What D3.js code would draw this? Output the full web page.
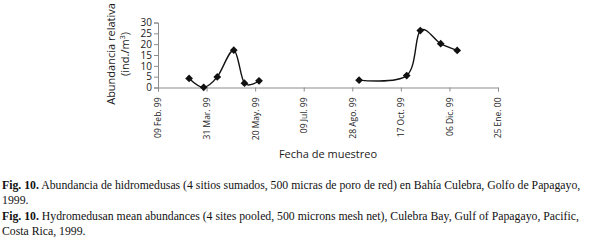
<!DOCTYPE html>
<html>
<head>
<meta charset="utf-8">
<script src="https://cdn.jsdelivr.net/npm/d3@7"></script>
<style>
  body { margin: 0; background: #fff; }
  svg { display: block; }
</style>
</head>
<body>
<div id="chart"></div>
<script>
// Sampling dates, values and which continuous line segment each belongs to
const sampleDates = ["1999-03-13", "1999-03-28", "1999-04-11", "1999-04-28", "1999-05-09", "1999-05-24",
                     "1999-09-04", "1999-10-23", "1999-11-06", "1999-11-27", "1999-12-14"];
const abundance = [4.2, 0.1, 4.9, 17.2, 2.0, 3.1, 3.4, 5.5, 26.3, 20.2, 17.1];
const segment = [1, 1, 1, 1, 1, 1, 2, 2, 2, 2, 2];

const xTickLabels = ["09 Feb. 99", "31 Mar. 99", "20 May. 99", "09 Jul. 99",
                     "28 Ago. 99", "17 Oct. 99", "06 Dic. 99", "25 Ene. 00"];
const yTicks = [0, 5, 10, 15, 20, 25, 30];

const captionLines = [
  ["Fig. 10.", " Abundancia de hidromedusas (4 sitios sumados, 500 micras de poro de red) en Bahía Culebra, Golfo de Papagayo,"],
  ["", "1999."],
  ["Fig. 10.", " Hydromedusan mean abundances (4 sites pooled, 500 microns mesh net), Culebra Bay, Gulf of Papagayo, Pacific,"],
  ["", "Costa Rica, 1999."]
];

const width = 609, height = 241;
const parse = d3.timeParse("%Y-%m-%d");
const data = sampleDates.map((d, i) => ({ date: parse(d), value: abundance[i], seg: segment[i] }));

const svg = d3.select("#chart")
  .append("svg")
    .attr("width", width)
    .attr("height", height);

// Scales
const start = parse("1999-02-09");
const x = d3.scaleTime()
  .domain([start, d3.timeDay.offset(start, 350)])
  .range([158, 498]);

const y = d3.scaleLinear()
  .domain([0, 30])
  .range([87.5, 22.5]);

const axisColor = "#8c8c8c";
const sans = "'Open Sans', 'DejaVu Sans', sans-serif";

// X axis
const xTickDates = xTickLabels.map((d, i) => d3.timeDay.offset(start, 50 * i));
const xAxis = svg.append("g")
  .attr("transform", `translate(0,${y(0)})`)
  .call(d3.axisBottom(x)
    .tickValues(xTickDates)
    .tickSize(4)
    .tickFormat((d, i) => xTickLabels[i]));

xAxis.selectAll("text")
  .attr("transform", "rotate(-90)")
  .attr("text-anchor", "end")
  .attr("x", -10)
  .attr("y", 0)
  .attr("dy", "0.35em")
  .style("font-family", sans)
  .style("font-size", "8.5px")
  .attr("fill", "#1a1a1a");

// Y axis
const yAxis = svg.append("g")
  .attr("transform", `translate(${x.range()[0]},0)`)
  .call(d3.axisLeft(y).tickValues(yTicks).tickSize(4).tickPadding(2));

yAxis.selectAll("text")
  .style("font-family", sans)
  .style("font-size", "10px")
  .attr("fill", "#1a1a1a");

svg.selectAll(".domain, .tick line").attr("stroke", axisColor);

// Line, broken between the two sampling periods
const line = d3.line()
  .x(d => x(d.date))
  .y(d => y(d.value))
  .curve(d3.curveCardinal.tension(0));

d3.groups(data, d => d.seg).forEach(([seg, pts]) => {
  svg.append("path")
    .datum(pts)
    .attr("fill", "none")
    .attr("stroke", "#111")
    .attr("stroke-width", 1.4)
    .attr("d", line);
});

// Diamond markers
svg.selectAll(".marker")
  .data(data)
  .enter()
  .append("path")
    .attr("class", "marker")
    .attr("d", d3.symbol().type(d3.symbolSquare).size(30))
    .attr("transform", d => `translate(${x(d.date)},${y(d.value)}) rotate(45)`)
    .attr("fill", "#111");

// Axis titles
const yTitle = svg.append("text")
  .attr("transform", "translate(115,54) rotate(-90)")
  .attr("text-anchor", "middle")
  .style("font-family", sans)
  .style("font-size", "11px")
  .attr("fill", "#1a1a1a");
yTitle.append("tspan").attr("x", 0).attr("y", 0).text("Abundancia relativa");
const unit = yTitle.append("tspan").attr("x", 0).attr("y", 14).text("(ind./m");
unit.append("tspan").attr("dy", -4).style("font-size", "7px").text("3");
unit.append("tspan").attr("dy", 4).text(")");

svg.append("text")
  .attr("x", 328)
  .attr("y", 158)
  .attr("text-anchor", "middle")
  .style("font-family", sans)
  .style("font-size", "11px")
  .attr("fill", "#1a1a1a")
  .text("Fecha de muestreo");

// Caption
const baselines = [189, 204, 220, 235];
captionLines.forEach(([bold, rest], i) => {
  const t = svg.append("text")
    .attr("x", 2)
    .attr("y", baselines[i])
    .style("font-family", "'Liberation Serif', 'Times New Roman', serif")
    .style("font-size", "11.75px")
    .attr("fill", "#111");
  if (bold) t.append("tspan").style("font-weight", "bold").text(bold);
  t.append("tspan").text(rest);
});
</script>
</body>
</html>
